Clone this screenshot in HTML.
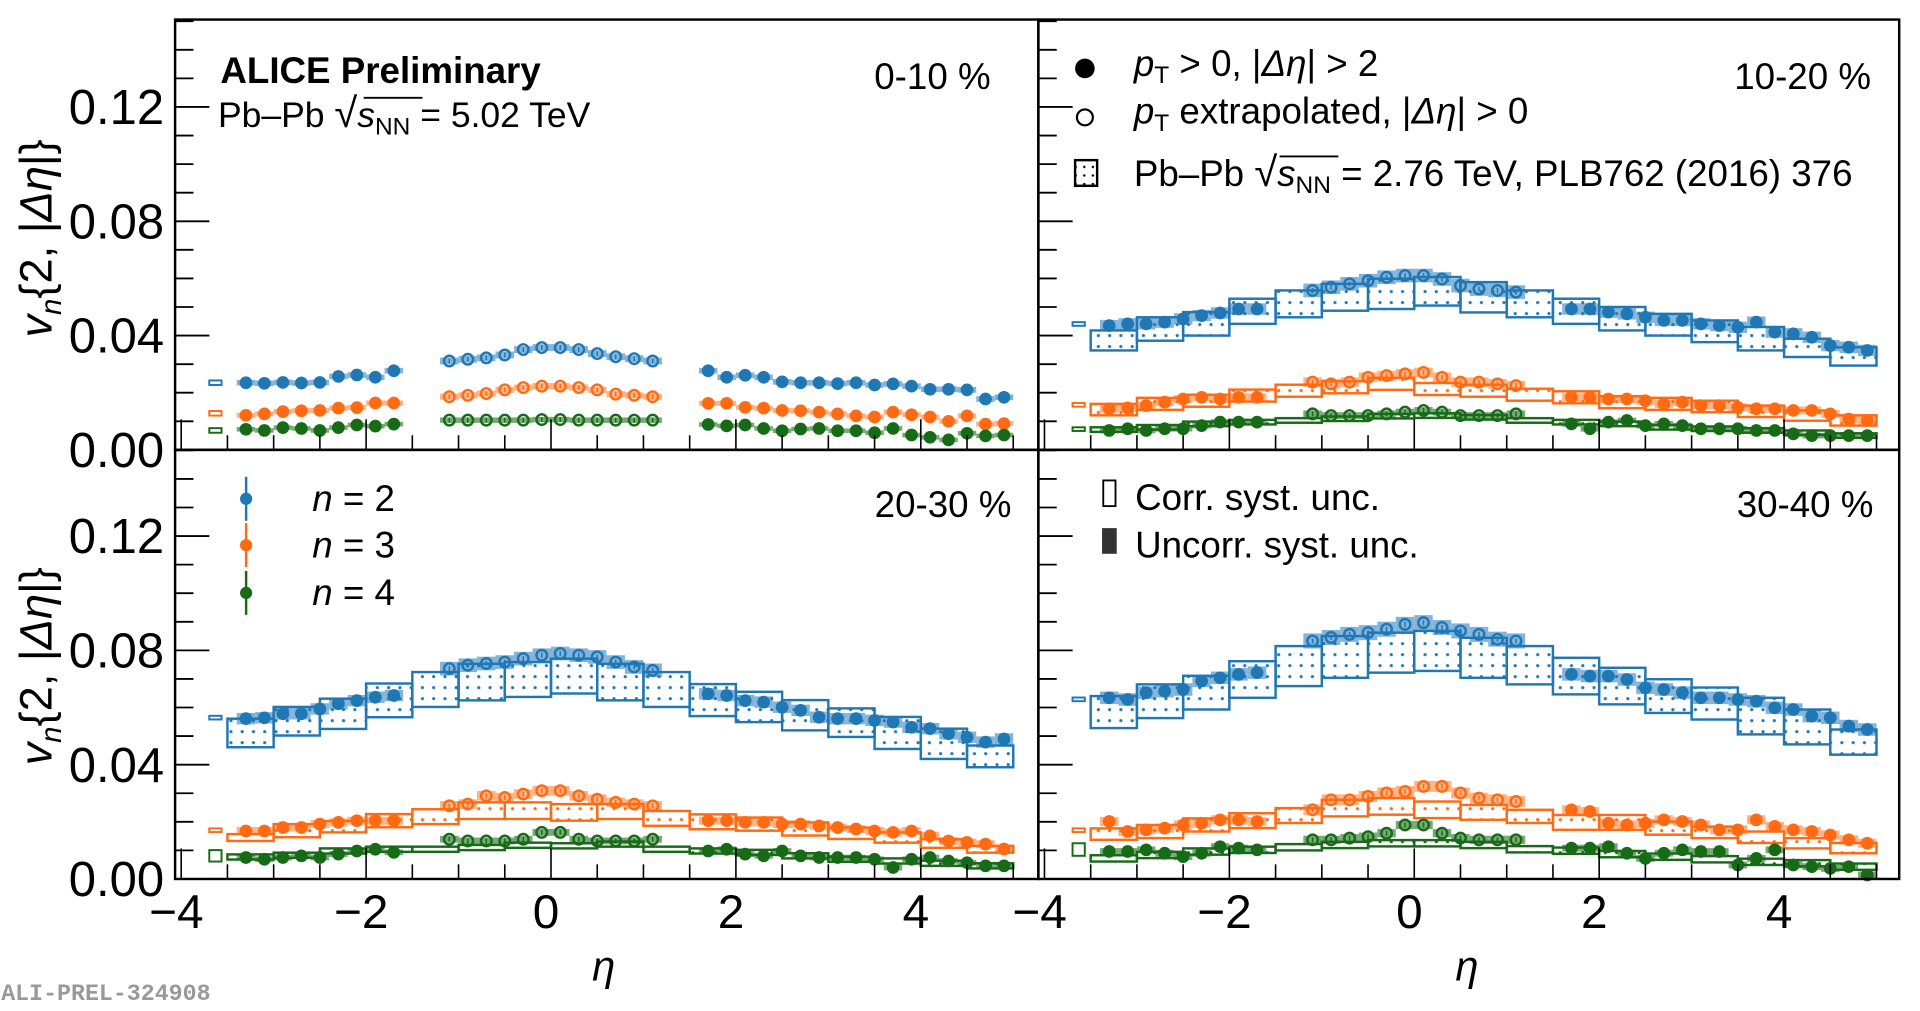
<!DOCTYPE html>
<html><head><meta charset="utf-8"><style>
html,body{margin:0;padding:0;background:#fff}
svg{display:block}
text{font-family:"Liberation Sans","DejaVu Sans",sans-serif}
</style></head><body>
<svg id="chart" width="1920" height="1011" viewBox="0 0 1568 827" preserveAspectRatio="none" xmlns="http://www.w3.org/2000/svg">
<defs>
<pattern id="dots-n2" width="9.2" height="9" patternUnits="userSpaceOnUse"><circle cx="4.6" cy="4.5" r="1.3" fill="#1f77b4"/></pattern>
<pattern id="dots-n3" width="9.2" height="9" patternUnits="userSpaceOnUse"><circle cx="4.6" cy="4.5" r="1.3" fill="#ff6a13"/></pattern>
<pattern id="dots-n4" width="9.2" height="9" patternUnits="userSpaceOnUse"><circle cx="4.6" cy="4.5" r="1.3" fill="#176b17"/></pattern>
<pattern id="dots-k" width="7" height="7" patternUnits="userSpaceOnUse"><circle cx="3.5" cy="3.5" r="1" fill="#000"/></pattern>
</defs>
<g id="marks"></g>
<g id="axes"></g>
<g id="texts">
<text x="180" y="68" font-size="30" font-weight="bold">ALICE Preliminary</text>
<text x="178" y="104" font-size="29">Pb–Pb <tspan font-size="34">√</tspan><tspan font-style="italic">s</tspan><tspan font-size="20" dy="6">NN</tspan><tspan dy="-6"> = 5.02 TeV</tspan></text>
<line x1="297" y1="80" x2="345" y2="80" stroke="#000" stroke-width="1.5"/>
<text x="809" y="73" font-size="30" text-anchor="end">0-10 %</text>
<text x="1528" y="73" font-size="30" text-anchor="end">10-20 %</text>
<text x="826" y="423" font-size="30" text-anchor="end">20-30 %</text>
<text x="1530" y="423" font-size="30" text-anchor="end">30-40 %</text>

<g>
<circle cx="886" cy="56" r="8" fill="#000"/>
<text x="926" y="62" font-size="30"><tspan font-style="italic">p</tspan><tspan font-size="20" dy="6">T</tspan><tspan dy="-6"> &gt; 0, |</tspan><tspan font-style="italic">Δη</tspan>| &gt; 2</text>
</g>
<g>
<circle cx="886" cy="96" r="6.5" fill="none" stroke="#000" stroke-width="1.8"/>
<text x="926" y="101" font-size="30"><tspan font-style="italic">p</tspan><tspan font-size="20" dy="6">T</tspan><tspan dy="-6"> extrapolated, |</tspan><tspan font-style="italic">Δη</tspan>| &gt; 0</text>
</g>
<g>
<rect x="878" y="131" width="18" height="21" fill="url(#dots-k)" stroke="#000" stroke-width="2"/>
<text x="926" y="152" font-size="30">Pb–Pb <tspan font-size="34">√</tspan><tspan font-style="italic">s</tspan><tspan font-size="20" dy="6">NN</tspan><tspan dy="-6"> = 2.76 TeV, PLB762 (2016) 376</tspan></text>
<line x1="1045" y1="128" x2="1093" y2="128" stroke="#000" stroke-width="1.5"/>
</g>

<g><line x1="201" y1="390" x2="201" y2="426" stroke="#1f77b4" stroke-width="2"/><circle cx="201" cy="408" r="5" fill="#1f77b4"/><text x="255" y="418" font-size="30"><tspan font-style="italic">n</tspan> = 2</text></g>
<g><line x1="201" y1="428" x2="201" y2="464" stroke="#ff6a13" stroke-width="2"/><circle cx="201" cy="446" r="5" fill="#ff6a13"/><text x="255" y="456" font-size="30"><tspan font-style="italic">n</tspan> = 3</text></g>
<g><line x1="201" y1="467" x2="201" y2="503" stroke="#176b17" stroke-width="2"/><circle cx="201" cy="485" r="5" fill="#176b17"/><text x="255" y="495" font-size="30"><tspan font-style="italic">n</tspan> = 4</text></g>

<g><rect x="901" y="393" width="10" height="21" fill="none" stroke="#000" stroke-width="1.5"/><text x="927" y="417" font-size="30">Corr. syst. unc.</text></g>
<g><rect x="900" y="432" width="12" height="21" fill="#333"/><text x="927" y="456" font-size="30">Uncorr. syst. unc.</text></g>

<text x="493" y="802" font-size="34" font-style="italic" text-anchor="middle">η</text>
<text x="1198" y="802" font-size="34" font-style="italic" text-anchor="middle">η</text>
<text transform="translate(42,195) rotate(-90)" font-size="37" text-anchor="middle"><tspan font-style="italic">v</tspan><tspan font-style="italic" font-size="24" dy="8">n</tspan><tspan dy="-8">{2, |</tspan><tspan font-style="italic">Δη</tspan>|}</text>
<text transform="translate(42,545) rotate(-90)" font-size="37" text-anchor="middle"><tspan font-style="italic">v</tspan><tspan font-style="italic" font-size="24" dy="8">n</tspan><tspan dy="-8">{2, |</tspan><tspan font-style="italic">Δη</tspan>|}</text>
<text x="1" y="818" font-size="19" font-weight="bold" fill="#999" style="font-family:'Liberation Mono',monospace">ALI-PREL-324908</text>
</g>
</svg>
<script>
// ---- data ----
const etaPts = [-3.3,-3.1,-2.9,-2.7,-2.5,-2.3,-2.1,-1.9,-1.7,
 -1.1,-0.9,-0.7,-0.5,-0.3,-0.1,0.1,0.3,0.5,0.7,0.9,1.1,
 1.7,1.9,2.1,2.3,2.5,2.7,2.9,3.1,3.3,3.5,3.7,3.9,4.1,4.3,4.5,4.7,4.9];
const openFlags = [0,0,0,0,0,0,0,0,0, 1,1,1,1,1,1,1,1,1,1,1,1, 0,0,0,0,0,0,0,0,0,0,0,0,0,0,0,0,0];
const boxCenters = [-3.25,-2.75,-2.25,-1.75,-1.25,-0.75,-0.25,0.25,0.75,1.25,1.75,2.25,2.75,3.25,3.75,4.25,4.75];
const yTickLabels = ["0.00","0.04","0.08","0.12"];
const yTickValues = [0,0.04,0.08,0.12];
const xTickValues = [-4,-2,0,2,4];
const xTickLabels = ["−4","−2","0","2","4"];

const c0_n2 = [.0235,.0233,.0236,.0234,.0236,.0257,.0262,.0254,.0277, .0311,.0317,.0322,.0332,.0351,.0358,.0358,.0351,.0337,.0326,.0319,.0311, .0277,.0254,.0261,.0254,.0238,.0235,.0235,.0232,.0235,.0227,.0231,.0223,.0212,.0212,.0210,.0178,.0184];
const c0_n3 = [.0121,.0126,.0134,.0137,.0138,.0146,.0148,.0164,.0164, .0186,.0191,.0197,.0210,.0218,.0223,.0223,.0218,.0210,.0195,.0191,.0186, .0163,.0163,.0149,.0146,.0138,.0137,.0132,.0126,.0119,.0115,.0132,.0123,.0115,.0100,.0119,.0090,.0092];
const c0_n4 = [.0072,.0068,.0078,.0075,.0068,.0078,.0087,.0083,.0090, .0104,.0104,.0104,.0104,.0104,.0106,.0106,.0104,.0104,.0104,.0104,.0104, .0089,.0084,.0087,.0075,.0067,.0073,.0075,.0067,.0067,.0060,.0075,.0052,.0044,.0035,.0058,.0049,.0052];

const c1_n2 = [.0435,.0441,.0441,.0447,.0458,.0470,.0479,.0493,.0493, .0558,.0569,.0581,.0592,.0604,.0610,.0610,.0598,.0575,.0563,.0558,.0552, .0493,.0493,.0482,.0476,.0464,.0453,.0453,.0441,.0435,.0429,.0447,.0412,.0406,.0394,.0365,.0359,.0348];
const c1_n3 = [.0144,.0147,.0155,.0167,.0178,.0184,.0178,.0184,.0184, .0237,.0231,.0237,.0254,.0260,.0266,.0271,.0254,.0237,.0237,.0231,.0225, .0184,.0184,.0178,.0178,.0172,.0161,.0167,.0155,.0155,.0149,.0144,.0144,.0138,.0138,.0126,.0108,.0103];
const c1_n4 = [.0068,.0074,.0068,.0074,.0074,.0085,.0097,.0097,.0097, .0126,.0120,.0120,.0120,.0126,.0132,.0138,.0132,.0120,.0120,.0120,.0126, .0091,.0074,.0097,.0103,.0085,.0091,.0085,.0074,.0074,.0074,.0068,.0068,.0056,.0050,.0050,.0050,.0050];
const c1_box_n2 = [.0383,.0423,.0441,.0485,.0511,.0534,.0546,.0555,.0534,.0511,.0485,.0459,.0438,.0415,.0389,.0357,.0327];
const c1_err_n2 = [.0035,.0041,.0041,.0044,.0047,.0047,.0053,.0050,.0053,.0047,.0044,.0041,.0038,.0038,.0041,.0032,.0032];
const c1_box_n3 = [.0141,.0161,.0172,.0190,.0207,.0219,.0231,.0213,.0207,.0193,.0184,.0167,.0161,.0152,.0135,.0120,.0103];
const c1_err_n3 = [.0020,.0021,.0021,.0021,.0021,.0021,.0021,.0021,.0021,.0021,.0021,.0021,.0021,.0020,.0020,.0018,.0018];
const c1_box_n4 = [.0071,.0079,.0091,.0097,.0103,.0109,.0118,.0120,.0114,.0103,.0097,.0091,.0079,.0074,.0068,.0060,.0050];
const c1_err_n4 = [.0008,.0008,.0008,.0008,.0008,.0008,.0008,.0008,.0008,.0008,.0008,.0008,.0008,.0008,.0008,.0008,.0008];

const c2_n2 = [.0561,.0564,.0578,.0578,.0595,.0613,.0624,.0636,.0642, .0736,.0748,.0754,.0759,.0771,.0783,.0789,.0783,.0777,.0759,.0742,.0730, .0648,.0642,.0624,.0619,.0601,.0590,.0566,.0561,.0561,.0555,.0549,.0531,.0526,.0508,.0496,.0479,.0490];
const c2_n3 = [.0168,.0168,.0180,.0180,.0192,.0198,.0204,.0204,.0204, .0256,.0262,.0291,.0285,.0297,.0309,.0309,.0291,.0279,.0268,.0262,.0256, .0204,.0204,.0198,.0198,.0192,.0192,.0186,.0180,.0175,.0168,.0163,.0168,.0151,.0133,.0128,.0122,.0105];
const c2_n4 = [.0075,.0069,.0075,.0081,.0075,.0087,.0098,.0104,.0093, .0139,.0133,.0133,.0133,.0139,.0163,.0163,.0139,.0133,.0133,.0133,.0139, .0098,.0104,.0087,.0081,.0098,.0081,.0075,.0075,.0075,.0069,.0040,.0069,.0075,.0063,.0057,.0046,.0046];
const c2_box_n2 = [.0511,.0552,.0578,.0625,.0663,.0689,.0698,.0710,.0689,.0663,.0626,.0602,.0573,.0547,.0511,.0473,.0429];
const c2_err_n2 = [.0050,.0050,.0053,.0059,.0061,.0064,.0061,.0061,.0064,.0061,.0056,.0053,.0053,.0050,.0056,.0053,.0038];
const c2_box_n3 = [.0145,.0169,.0183,.0204,.0218,.0239,.0239,.0233,.0236,.0212,.0200,.0192,.0175,.0160,.0145,.0124,.0104];
const c2_err_n3 = [.0012,.0023,.0020,.0023,.0026,.0029,.0029,.0029,.0026,.0026,.0026,.0023,.0023,.0020,.0018,.0015,.0012];
const c2_box_n4 = [.0077,.0083,.0098,.0104,.0104,.0110,.0118,.0116,.0122,.0104,.0098,.0093,.0081,.0069,.0063,.0055,.0046];
const c2_err_n4 = [.0009,.0009,.0009,.0009,.0009,.0009,.0009,.0009,.0009,.0009,.0009,.0009,.0009,.0009,.0009,.0009,.0009];

const c3_n2 = [.0634,.0628,.0652,.0657,.0663,.0693,.0704,.0716,.0722, .0833,.0845,.0856,.0862,.0874,.0891,.0897,.0880,.0868,.0856,.0839,.0833, .0716,.0710,.0710,.0698,.0669,.0663,.0652,.0634,.0634,.0628,.0622,.0599,.0593,.0570,.0564,.0535,.0523];
const c3_n3 = [.0201,.0166,.0172,.0178,.0189,.0195,.0207,.0207,.0201, .0242,.0277,.0277,.0289,.0301,.0306,.0324,.0324,.0301,.0283,.0277,.0271, .0242,.0236,.0195,.0189,.0195,.0207,.0201,.0189,.0172,.0172,.0207,.0184,.0172,.0166,.0154,.0137,.0125];
const c3_n4 = [.0096,.0096,.0102,.0090,.0078,.0090,.0113,.0108,.0102, .0137,.0137,.0143,.0148,.0160,.0189,.0189,.0160,.0143,.0137,.0137,.0137, .0108,.0108,.0113,.0090,.0072,.0090,.0102,.0096,.0096,.0049,.0072,.0102,.0049,.0043,.0037,.0043,.0014];
const c3_box_n2 = [.0584,.0622,.0652,.0698,.0745,.0777,.0792,.0798,.0774,.0748,.0710,.0675,.0640,.0614,.0570,.0532,.0479];
const c3_err_n2 = [.0056,.0059,.0059,.0064,.0070,.0073,.0070,.0070,.0070,.0067,.0064,.0064,.0059,.0056,.0064,.0061,.0044];
const c3_box_n3 = [.0157,.0166,.0189,.0204,.0222,.0248,.0254,.0242,.0233,.0219,.0198,.0198,.0178,.0163,.0146,.0125,.0108];
const c3_err_n3 = [.0020,.0023,.0023,.0026,.0026,.0029,.0029,.0029,.0026,.0023,.0026,.0026,.0023,.0020,.0020,.0018,.0018];
const c3_box_n4 = [.0072,.0084,.0096,.0102,.0111,.0119,.0125,.0125,.0119,.0104,.0099,.0087,.0078,.0069,.0060,.0055,.0043];
const c3_err_n4 = [.0011,.0011,.0011,.0011,.0011,.0011,.0011,.0011,.0011,.0011,.0011,.0011,.0011,.0011,.0011,.0011,.0011];

const globalBoxVals = [[.0235,.0128,.0068],[.0441,.0158,.0073],[.0565,.0171,.0081],[.0629,.0171,.0103]];
const globalBoxErrs = [[.0008,.0008,.0008],[.0006,.0006,.0006],[.0006,.0006,.0020],[.0006,.0006,.0022]];
const uncorrErr = [[.0010,.0009,.0008],[.0020,.0014,.0010],[.0020,.0014,.0010],[.0022,.0016,.0012]];

// ---- layout ----
const NS = "http://www.w3.org/2000/svg";
const colors = ["#1f77b4","#ff6a13","#176b17"];
const shade = ["#6fa7d3","#ffa46e","#5e9a5e"];
const panels = [
 {name:"panel-0-10", x0:143, x1:848, yTop:16, yBot:368},
 {name:"panel-10-20", x0:848, x1:1551, yTop:16, yBot:368},
 {name:"panel-20-30", x0:143, x1:848, yTop:368, yBot:719},
 {name:"panel-30-40", x0:848, x1:1551, yTop:368, yBot:719}
];
const ETA_MIN = -4.066, PX_PER_ETA = 75.5, PX_PER_V = 93.5/0.04;
function xs(p, eta){ return p.x0 + (eta-ETA_MIN)*PX_PER_ETA; }
function ys(p, v){ return p.yBot - v*PX_PER_V; }
function mk(tag, attrs, parent){ const e=document.createElementNS(NS,tag); for(const k in attrs) e.setAttribute(k,attrs[k]); parent.appendChild(e); return e; }

const points = [[c0_n2,c0_n3,c0_n4],[c1_n2,c1_n3,c1_n4],[c2_n2,c2_n3,c2_n4],[c3_n2,c3_n3,c3_n4]];
const boxes = [null,[c1_box_n2,c1_box_n3,c1_box_n4],[c2_box_n2,c2_box_n3,c2_box_n4],[c3_box_n2,c3_box_n3,c3_box_n4]];
const boxErrs = [null,[c1_err_n2,c1_err_n3,c1_err_n4],[c2_err_n2,c2_err_n3,c2_err_n4],[c3_err_n2,c3_err_n3,c3_err_n4]];
const marks = document.getElementById("marks");
const hn = ["n2","n3","n4"];

panels.forEach((p,pi)=>{
  const g = mk("g",{},marks);
  
  
  for(let h=0;h<3;h++){
    const gb = mk("rect",{x:xs(p,-3.63)-5, y:ys(p,globalBoxVals[pi][h]+globalBoxErrs[pi][h]), width:10,
      height:Math.max(3,2*globalBoxErrs[pi][h]*PX_PER_V), fill:"none", stroke:colors[h], "stroke-width":1.6},g);
    
    
    points[pi][h].forEach((v,i)=>{
      const e = uncorrErr[pi][h]*(openFlags[i]?1.2:1);
      const r = mk("rect",{x:xs(p,etaPts[i]-0.1), y:ys(p,v+e), width:0.2*PX_PER_ETA, height:2*e*PX_PER_V, fill:shade[h], opacity:0.85},g);
      
      
    });
  }
  if(boxes[pi]){
    for(let h=0;h<3;h++){
      boxes[pi][h].forEach((v,i)=>{
        const e = boxErrs[pi][h][i];
        const r = mk("rect",{x:xs(p,boxCenters[i]-0.25), y:ys(p,v+e), width:0.5*PX_PER_ETA, height:2*e*PX_PER_V,
          fill:"url(#dots-"+hn[h]+")", stroke:colors[h], "stroke-width":2},g);
        
        
      });
    }
  }
  for(let h=0;h<3;h++){
    points[pi][h].forEach((v,i)=>{
      const cx = xs(p,etaPts[i]), cy = ys(p,v);
      let m;
      if(openFlags[i]){
        m = mk("g",{},g);
        mk("circle",{cx:cx, cy:cy, r:4.3, fill:"none", stroke:colors[h], "stroke-width":2},m);
        mk("line",{x1:cx, y1:cy-2, x2:cx, y2:cy+2, stroke:colors[h], "stroke-width":1.2},m);
      } else {
        m = mk("circle",{cx:cx, cy:cy, r:5.2, fill:colors[h]},g);
      }
      
      
    });
  }
});

// ---- axes ----
const axes = document.getElementById("axes");
panels.forEach((p,pi)=>{
  const g = mk("g",{},axes);
  
  
  mk("rect",{x:p.x0, y:p.yTop, width:p.x1-p.x0, height:p.yBot-p.yTop, fill:"none", stroke:"#000", "stroke-width":2},g);
  for(let k=0;k<=15;k++){
    const v = k*0.01; const y = ys(p,v);
    const major = (k%4===0);
    mk("line",{x1:p.x0, y1:y, x2:p.x0+(major?28:15), y2:y, stroke:"#000", "stroke-width":1.5},g);
  }
  for(let e=-4;e<=5;e+=0.5){
    const x = xs(p,e); const major = (Math.abs(e%2)<1e-9);
    mk("line",{x1:x, y1:p.yBot, x2:x, y2:p.yBot-(major?25:12), stroke:"#000", "stroke-width":1.3},g);
  }
  if(p.x0===143){
    yTickValues.forEach((v,i)=>{
      const t = mk("text",{x:134, y:ys(p,v)+14, "font-size":40, "text-anchor":"end"},g);
      t.textContent = yTickLabels[i];
      
      
    });
  }
  if(p.yBot===719){
    xTickValues.forEach((v,i)=>{
      const t = mk("text",{x:xs(p,v)-4, y:759, "font-size":39, "text-anchor":"middle"},g);
      t.textContent = xTickLabels[i];
      
      
    });
  }
});
</script>
</body></html>
